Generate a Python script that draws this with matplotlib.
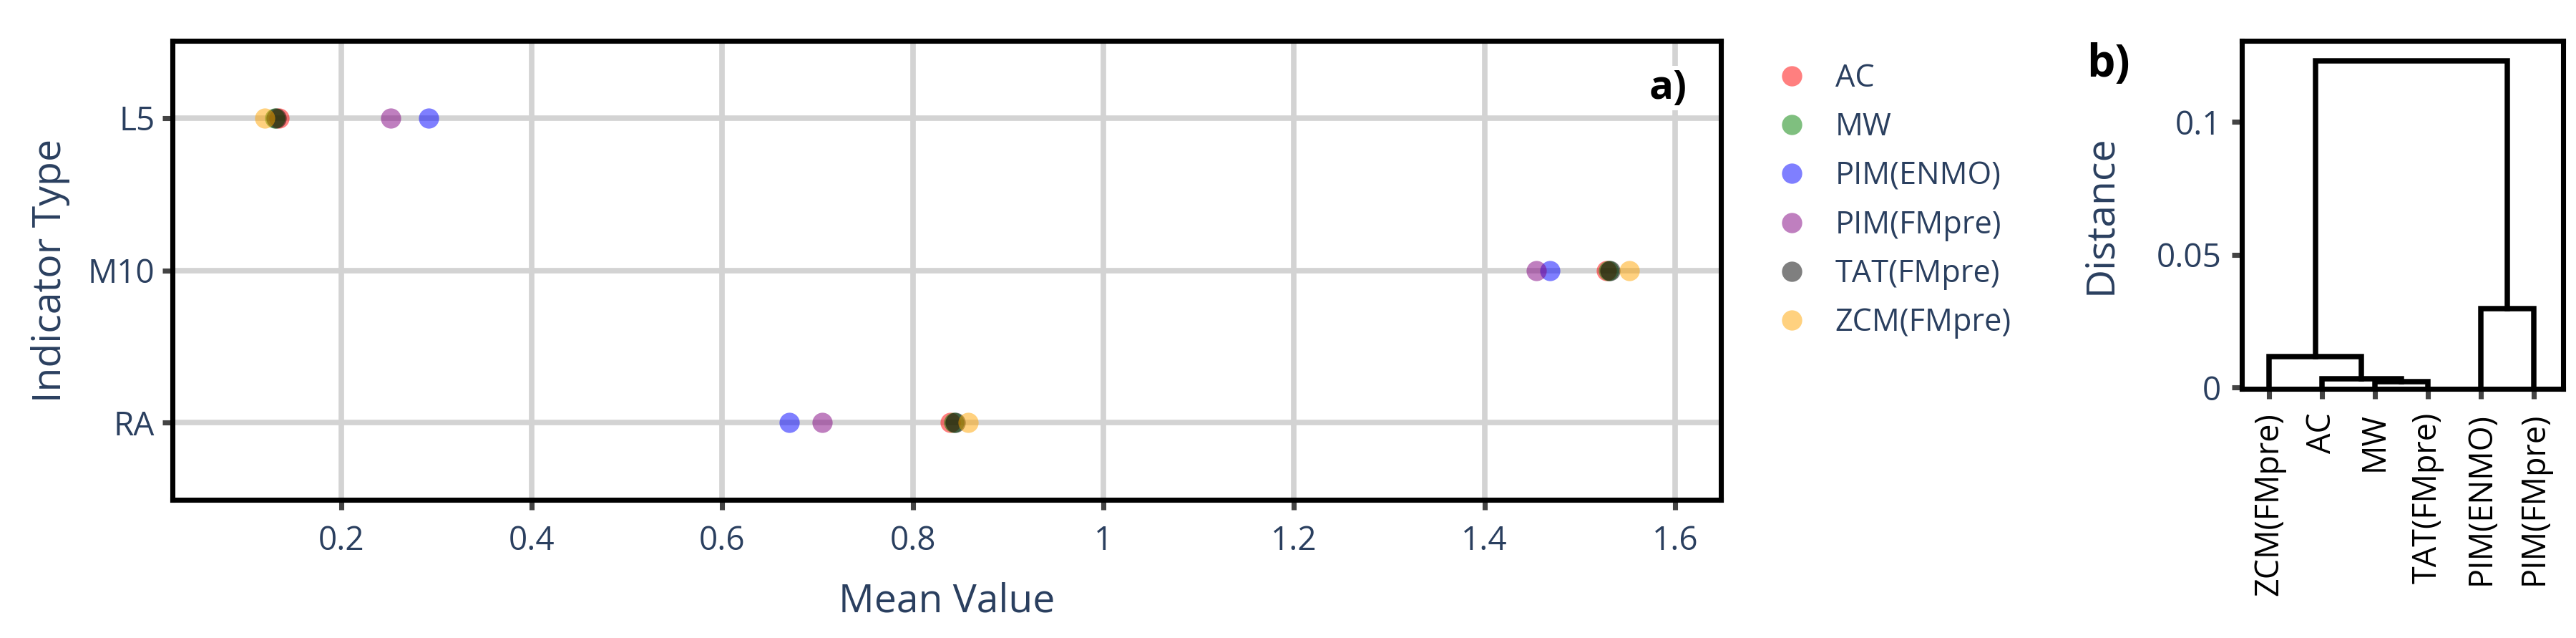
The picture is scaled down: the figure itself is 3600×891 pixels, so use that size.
import matplotlib
matplotlib.use("Agg")
import matplotlib.pyplot as plt
from matplotlib.lines import Line2D

plt.rcParams['font.family'] = ['Open Sans', 'DejaVu Sans']

# mean values per indicator
indicators = ['L5', 'M10', 'RA']
methods = ['AC', 'MW', 'PIM(ENMO)', 'PIM(FMpre)', 'TAT(FMpre)', 'ZCM(FMpre)']
colors = ['red', 'green', 'blue', 'purple', 'black', 'orange']
ac = [0.1346, 1.528, 0.8392]
mw = [0.130, 1.530, 0.8430]
pim_enmo = [0.2916, 1.4686, 0.6700]
pim_fmpre = [0.2520, 1.4543, 0.7047]
tat_fmpre = [0.1316, 1.532, 0.8444]
zcm_fmpre = [0.1196, 1.552, 0.8579]
series = [ac, mw, pim_enmo, pim_fmpre, tat_fmpre, zcm_fmpre]

# dendrogram: leaf order and merges (left, right, height)
leaves = ['ZCM(FMpre)', 'AC', 'MW', 'TAT(FMpre)', 'PIM(ENMO)', 'PIM(FMpre)']
merges = [('MW', 'TAT(FMpre)', 0.0023),
          ('AC', 'm0', 0.0034),
          ('ZCM(FMpre)', 'm1', 0.0115),
          ('PIM(ENMO)', 'PIM(FMpre)', 0.0298),
          ('m2', 'm3', 0.1229)]

txt = '#2a3f5f'
grid_c = '#d3d3d3'

fig = plt.figure(figsize=(12, 2.97), dpi=300)
ax = fig.add_axes([0.0669, 0.2166, 0.6011, 0.7194])
ax2 = fig.add_axes([0.8703, 0.3906, 0.1247, 0.5454])

# panel a
ypos = {k: i for i, k in enumerate(indicators)}
for name, vals, c in zip(methods, series, colors):
    ax.scatter(vals, [ypos[k] for k in indicators], s=46, color=c, alpha=0.5,
               linewidths=0, zorder=3)

ax.set_xlim(0.0227, 1.648)
ax.set_ylim(2.507, -0.507)
ax.set_yticks(range(len(indicators)))
ax.set_yticklabels(indicators)
ax.set_xticks([0.2, 0.4, 0.6, 0.8, 1.0, 1.2, 1.4, 1.6])
ax.set_xticklabels(['%g' % v for v in ax.get_xticks()])
ax.grid(True, color=grid_c, lw=1.85, zorder=0)
ax.set_axisbelow(True)
ax.set_xlabel('Mean Value', fontsize=13.3, color=txt, labelpad=8)
ax.set_ylabel('Indicator Type', fontsize=13.3, color=txt, labelpad=6)
ax.text(0.978, 0.897, 'a)', transform=ax.transAxes, ha='right', va='center',
        fontsize=13.5, fontweight='bold',
        bbox=dict(facecolor='white', edgecolor='none', pad=1))

handles = [Line2D([], [], ls='none', marker='o', ms=6.8, color=c, alpha=0.5,
                  markeredgewidth=0) for c in colors]
leg = fig.legend(handles, methods, loc='upper left', bbox_to_anchor=(0.6895, 0.902),
                 frameon=False, fontsize=10.4, handlelength=1.0, handletextpad=0.9,
                 labelspacing=0.55, borderpad=0, borderaxespad=0)
for t in leg.get_texts():
    t.set_color(txt)

# panel b: dendrogram
pos = {k: i + 1 for i, k in enumerate(leaves)}
hgt = {k: 0.0 for k in leaves}
for i, (l, r, h) in enumerate(merges):
    xl, xr = pos[l], pos[r]
    ax2.plot([xl, xl, xr, xr], [hgt[l], h, h, hgt[r]], color='black', lw=1.8,
             solid_joinstyle='miter', solid_capstyle='projecting')
    pos['m%d' % i] = (xl + xr) / 2
    hgt['m%d' % i] = h

ax2.set_xlim(0.49, 6.55)
ax2.set_ylim(-0.0005, 0.1305)
ax2.set_xticks(range(1, len(leaves) + 1))
ax2.set_xticklabels(leaves, rotation=90, color='black', fontsize=10.8,
                    family=['Liberation Sans Narrow', 'Open Sans', 'DejaVu Sans'])
ax2.set_yticks([0, 0.05, 0.1])
ax2.set_yticklabels(['%g' % v for v in [0, 0.05, 0.1]])
ax2.set_ylabel('Distance', fontsize=13.3, color=txt, labelpad=12)
fig.text(0.8100, 0.898, 'b)', ha='left', va='center', fontsize=15, fontweight='bold')

for a in (ax, ax2):
    for s in a.spines.values():
        s.set_linewidth(1.7)
        s.set_color('black')
    a.tick_params(length=3.4, width=1.7, color='#444444', labelsize=11)
    a.tick_params(axis='x', pad=5)
    a.tick_params(axis='y', pad=2.5)
    for t in a.get_yticklabels():
        t.set_color(txt)
for t in ax.get_xticklabels():
    t.set_color(txt)
ax2.tick_params(axis='x', labelsize=10.8, pad=4.5)
ax2.tick_params(axis='y', pad=3.5)

fig.savefig('out.png', dpi=300)
